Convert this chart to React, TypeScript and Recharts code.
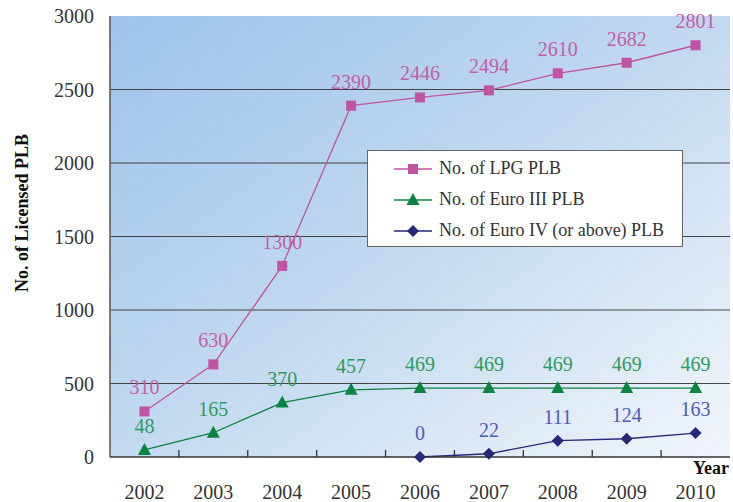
import React from "react";
import { LineChart, Line, XAxis, YAxis, CartesianGrid, Legend, LabelList } from "recharts";

const years = [2002, 2003, 2004, 2005, 2006, 2007, 2008, 2009, 2010];
const lpg = [310, 630, 1300, 2390, 2446, 2494, 2610, 2682, 2801];
const euro3 = [48, 165, 370, 457, 469, 469, 469, 469, 469];
const euro4 = [null, null, null, null, 0, 22, 111, 124, 163];
const yTicks = [0, 500, 1000, 1500, 2000, 2500, 3000];

const data = years.map((y, i) => ({ year: y, lpg: lpg[i], euro3: euro3[i], euro4: euro4[i] }));

const FONT = "'Liberation Serif', 'Times New Roman', serif";
const PLOT_W = 620;
const HALF_BAND = PLOT_W / years.length / 2;

const series = [
  { key: "lpg", name: "No. of LPG PLB", stroke: "#c054a2", label: "#c25eaa", shape: "square" },
  { key: "euro3", name: "No. of Euro III PLB", stroke: "#0b8443", label: "#2f9a5f", shape: "triangle" },
  { key: "euro4", name: "No. of Euro IV (or above) PLB", stroke: "#26297a", label: "#4b5db5", shape: "diamond" },
];

const Marker = ({ cx, cy, shape, color }: any) => {
  if (cx == null || cy == null) return <g />;
  if (shape === "square") return <rect x={cx - 5} y={cy - 5} width={10} height={10} fill={color} />;
  if (shape === "triangle")
    return <polygon points={`${cx},${cy - 7} ${cx + 6.5},${cy + 5} ${cx - 6.5},${cy + 5}`} fill={color} />;
  return <polygon points={`${cx},${cy - 6} ${cx + 6},${cy} ${cx},${cy + 6} ${cx - 6},${cy}`} fill={color} />;
};

const YearTick = (props: any) => {
  const { x, y, payload } = props;
  const last = payload.value === years[years.length - 1];
  return (
    <g>
      {!last && <line x1={x + HALF_BAND} y1={y} x2={x + HALF_BAND} y2={y - 7} stroke="#333" strokeWidth={1.3} />}
      <text x={x} y={y + 42} textAnchor="middle" fill="#333" fontSize={20} fontFamily={FONT}>
        {payload.value}
      </text>
    </g>
  );
};

const renderLegend = () => (
  <div
    style={{
      background: "#fff",
      border: "1px solid #666",
      boxSizing: "border-box",
      width: 316,
      height: 97,
      padding: "2px 0 0 26px",
      fontFamily: FONT,
      fontSize: 18,
      color: "#333",
    }}
  >
    {series.map((s) => (
      <div key={s.key} style={{ display: "flex", alignItems: "center", height: 31 }}>
        <svg width={40} height={16} style={{ marginRight: 5 }}>
          <line x1={0} y1={8} x2={38} y2={8} stroke={s.stroke} strokeWidth={1.3} />
          <Marker cx={19} cy={8} shape={s.shape} color={s.stroke} />
        </svg>
        <span>{s.name}</span>
      </div>
    ))}
  </div>
);

const makeLabel = (color: string) => (props: any) => {
  const { x, y, value } = props;
  if (value == null || x == null || y == null) return null;
  return (
    <text x={x} y={y - 17} textAnchor="middle" fill={color} fontSize={20} fontFamily={FONT}>
      {value}
    </text>
  );
};

export default function App() {
  return (
    <div style={{ position: "absolute", left: 0, top: 0, width: 733, height: 502, background: "#fff", fontFamily: FONT }}>
      <LineChart width={733} height={502} data={data} margin={{ top: 16, right: 3, bottom: 0, left: 50 }}>
        <defs>
          <linearGradient id="bgGrad" x1="0" y1="0" x2="1" y2="1">
            <stop offset="0%" stopColor="#9cc3ea" />
            <stop offset="50%" stopColor="#c2d9f0" />
            <stop offset="100%" stopColor="#f2f6fb" />
          </linearGradient>
        </defs>
        <CartesianGrid
          vertical={false}
          fill="url(#bgGrad)"
          stroke="#444"
          strokeWidth={1.2}
          horizontalValues={[500, 1000, 1500, 2000, 2500]}
        />
        <XAxis
          dataKey="year"
          type="number"
          domain={[2001.5, 2010.5]}
          ticks={years}
          interval={0}
          height={45}
          tickLine={false}
          tickSize={0}
          tickMargin={0}
          axisLine={{ stroke: "#333", strokeWidth: 1.5 }}
          tick={<YearTick />}
          label={{
            content: (p: any) => {
              const vb = p.viewBox;
              return (
                <text x={vb.x + vb.width - 1} y={vb.y + 17} textAnchor="end" fontSize={18} fontWeight="bold" fill="#111" fontFamily={FONT}>
                  Year
                </text>
              );
            },
          }}
        />
        <XAxis xAxisId="t" orientation="top" type="number" domain={[2001.5, 2010.5]} mirror height={0} tick={false} tickLine={false} axisLine={{ stroke: "#aaa" }} />
        <YAxis
          domain={[0, 3000]}
          ticks={yTicks}
          width={60}
          tickLine={false}
          tickSize={0}
          tickMargin={16}
          axisLine={{ stroke: "#555", strokeWidth: 1.5 }}
          tick={{ fill: "#333", fontSize: 20, fontFamily: FONT }}
          label={{
            content: () => (
              <text
                x={22}
                y={213}
                transform="rotate(-90 22 213)"
                textAnchor="middle"
                dominantBaseline="central"
                fontSize={18}
                fontWeight="bold"
                fill="#111"
                fontFamily={FONT}
              >
                No. of Licensed PLB
              </text>
            ),
          }}
        />
        <YAxis yAxisId="r" orientation="right" domain={[0, 3000]} mirror width={0} tick={false} tickLine={false} axisLine={{ stroke: "#555" }} />
        <Legend
          layout="vertical"
          align="center"
          verticalAlign="middle"
          content={renderLegend}
          wrapperStyle={{ position: "absolute", left: 367, top: 150, width: 316, height: 97 }}
        />
        {series.map((s) => (
          <Line
            key={s.key}
            dataKey={s.key}
            name={s.name}
            stroke={s.stroke}
            strokeWidth={1.3}
            isAnimationActive={false}
            connectNulls={false}
            dot={(p: any) => <Marker key={p.key ?? `${s.key}-${p.index}`} cx={p.cx} cy={p.cy} shape={s.shape} color={s.stroke} />}
            activeDot={false}
          >
            <LabelList dataKey={s.key} content={makeLabel(s.label)} />
          </Line>
        ))}
      </LineChart>
    </div>
  );
}
